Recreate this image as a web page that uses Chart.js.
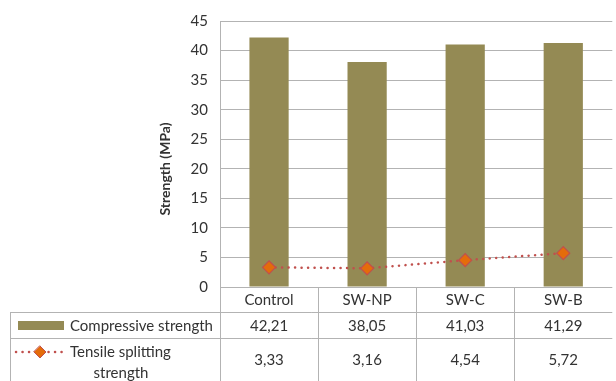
<!DOCTYPE html>
<html>
<head>
<meta charset="utf-8">
<script src="https://cdn.jsdelivr.net/npm/chart.js@4/dist/chart.umd.min.js"></script>
<style>
    html, body { margin: 0; padding: 0; background: #fff; overflow: hidden; }
    #wrap { width: 620px; height: 381px; position: relative; }
</style>
</head>
<body>
<div id="wrap"><canvas id="chart"></canvas></div>
<script>
const categories = ['Control', 'SW-NP', 'SW-C', 'SW-B']
const compressive = [42.21, 38.05, 41.03, 41.29]
const tensile = [3.33, 3.16, 4.54, 5.72]
const seriesNames = ['Compressive strength', 'Tensile splitting strength']
const yTicks = [0, 5, 10, 15, 20, 25, 30, 35, 40, 45]

const barColor = '#948a54'
const lineColor = '#c0504d'
const markerColor = '#e46c0a'
const gridColor = '#b3b3b3'
const textColor = '#333333'
const fontFamily = 'Lato, "Open Sans", sans-serif'

const fmt = (v) => v.toFixed(2).replace('.', ',')

// draws the data table under the plot + the y axis title
const dataTable = {
    id: 'dataTable',
    afterDraw(chart) {
        const ctx = chart.ctx
        const x = chart.scales.x
        const area = chart.chartArea
        const colW = x.width / categories.length
        const top = area.bottom
        const rows = [top, top + 25, top + 51, chart.height]
        const left = 10

        ctx.save()
        ctx.strokeStyle = gridColor
        ctx.lineWidth = 1

        // horizontal lines
        ctx.beginPath()
        ctx.moveTo(left, rows[1] + 0.5)
        ctx.lineTo(area.right, rows[1] + 0.5)
        ctx.moveTo(left, rows[2] + 0.5)
        ctx.lineTo(area.right, rows[2] + 0.5)
        // vertical lines
        ctx.moveTo(left + 0.5, rows[1])
        ctx.lineTo(left + 0.5, rows[3])
        ctx.moveTo(Math.round(area.left) + 0.5, top)
        ctx.lineTo(Math.round(area.left) + 0.5, rows[3])
        for (let i = 1; i < categories.length; i++) {
            const cx = Math.round(area.left + colW * i) + 0.5
            ctx.moveTo(cx, top)
            ctx.lineTo(cx, rows[3])
        }
        ctx.stroke()

        ctx.fillStyle = textColor
        ctx.font = '15px ' + fontFamily
        ctx.textAlign = 'center'
        ctx.textBaseline = 'middle'
        categories.forEach((c, i) => {
            const cx = x.getPixelForValue(i)
            ctx.fillText(c, cx, (rows[0] + rows[1]) / 2 + 1)
            ctx.fillText(fmt(compressive[i]), cx, (rows[1] + rows[2]) / 2 + 1)
            ctx.fillText(fmt(tensile[i]), cx, (rows[2] + rows[3]) / 2 + 1)
        })

        // legend keys
        ctx.fillStyle = barColor
        ctx.fillRect(18, rows[1] + 9, 46, 9)

        const ly = rows[2] + 14
        ctx.strokeStyle = lineColor
        ctx.lineWidth = 2.5
        ctx.lineCap = 'round'
        ctx.setLineDash([0.1, 6.4])
        ctx.beginPath()
        ctx.moveTo(16, ly)
        ctx.lineTo(62, ly)
        ctx.stroke()
        ctx.setLineDash([])
        ctx.fillStyle = markerColor
        ctx.strokeStyle = lineColor
        ctx.lineWidth = 1
        ctx.beginPath()
        ctx.moveTo(40, ly - 6)
        ctx.lineTo(46, ly)
        ctx.lineTo(40, ly + 6)
        ctx.lineTo(34, ly)
        ctx.closePath()
        ctx.fill()
        ctx.stroke()

        ctx.fillStyle = textColor
        ctx.textAlign = 'left'
        ctx.fillText(seriesNames[0], 70, (rows[1] + rows[2]) / 2 + 1)
        ctx.fillText('Tensile splitting', 70, ly)
        ctx.textAlign = 'center'
        ctx.fillText('strength', 121, ly + 21)

        // y axis title
        ctx.translate(165, 169)
        ctx.rotate(-Math.PI / 2)
        ctx.font = 'bold 14px ' + fontFamily
        ctx.fillText('Strength (MPa)', 0, 0)
        ctx.restore()
    },
}

new Chart(document.getElementById('chart'), {
    data: {
        labels: categories,
        datasets: [
            {
                type: 'line',
                label: seriesNames[1],
                data: tensile,
                order: 0,
                borderColor: lineColor,
                borderWidth: 2.5,
                borderDash: [0.1, 6.4],
                borderCapStyle: 'round',
                pointStyle: 'rectRot',
                pointRadius: 6.5,
                pointBackgroundColor: markerColor,
                pointBorderColor: lineColor,
                pointBorderWidth: 1.2,
                tension: 0,
            },
            {
                type: 'bar',
                label: seriesNames[0],
                data: compressive,
                order: 1,
                backgroundColor: barColor,
                barPercentage: 0.4,
                categoryPercentage: 1,
            },
        ],
    },
    options: {
        responsive: true,
        maintainAspectRatio: false,
        animation: false,
        events: [],
        layout: {
            padding: { left: 150, top: 19, bottom: 94, right: 0 },
        },
        plugins: {
            legend: { display: false },
            tooltip: { enabled: false },
        },
        scales: {
            x: {
                display: false,
                offset: true,
            },
            y: {
                min: 0,
                max: 45,
                afterFit: (scale) => {
                    scale.width = 70
                },
                afterBuildTicks: (scale) => {
                    scale.ticks = yTicks.map((v) => ({ value: v }))
                },
                ticks: {
                    padding: 12,
                    color: textColor,
                    font: { family: fontFamily, size: 15 },
                },
                grid: {
                    color: gridColor,
                    drawTicks: false,
                },
                border: { color: gridColor },
            },
        },
    },
    plugins: [dataTable],
})
</script>
</body>
</html>
